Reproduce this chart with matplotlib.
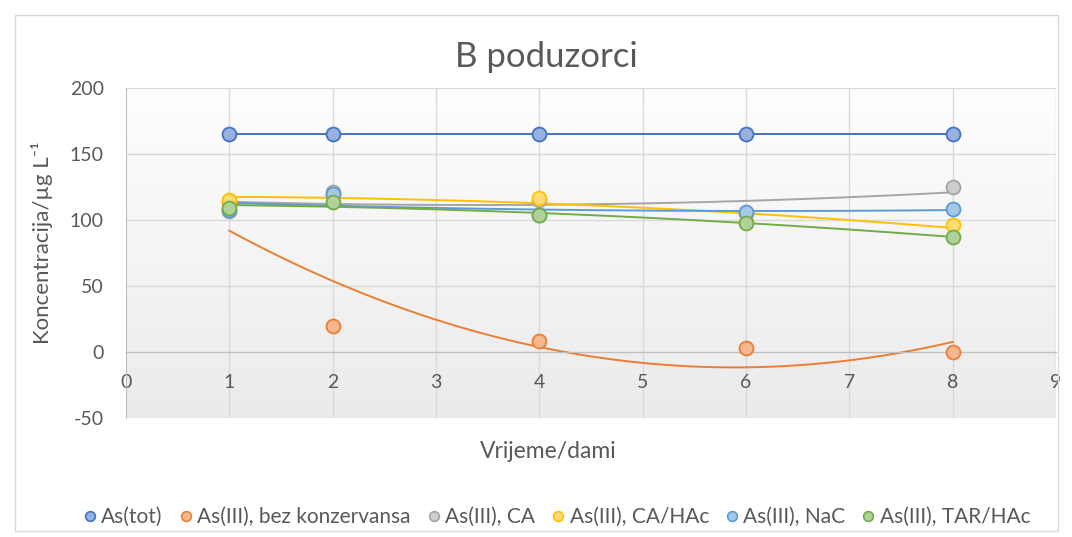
import numpy as np
import matplotlib
matplotlib.use("Agg")
import matplotlib.pyplot as plt
from matplotlib.lines import Line2D
from matplotlib.patches import Rectangle
from matplotlib.colors import to_rgb, LinearSegmentedColormap

plt.rcParams['font.family'] = ['Lato', 'DejaVu Sans']
plt.rcParams['axes.unicode_minus'] = False

# vrijeme uzorkovanja (dani) i izmjerene koncentracije (µg/L)
dani = [1, 2, 4, 6, 8]
as_tot = [165, 165, 165, 165, 165]
bez_konz = [114, 20, 8.5, 3, 0]
ca = [107, 121, 115, 105, 125]
ca_hac = [115, 119, 117, 98.5, 96.5]
nac = [107.5, 120, 104, 106, 108.5]
tar_hac = [109, 114, 103.5, 97.5, 87.5]

serije = [
    ("As(tot)", as_tot, "#4472C4"),
    ("As(III), bez konzervansa", bez_konz, "#ED7D31"),
    ("As(III), CA", ca, "#A5A5A5"),
    ("As(III), CA/HAc", ca_hac, "#FFC000"),
    ("As(III), NaC", nac, "#5B9BD5"),
    ("As(III), TAR/HAc", tar_hac, "#70AD47"),
]

tekst = "#595959"
mreza = "#d9d9d9"


def svjetlije(c, f=0.45):
    r, g, b = to_rgb(c)
    return (r + (1 - r) * f, g + (1 - g) * f, b + (1 - b) * f)


fig = plt.figure(figsize=(10.72, 5.37), dpi=100)
fig.patches.append(Rectangle((15 / 1072, 6 / 537), 1043 / 1072, 516 / 537,
                             transform=fig.transFigure, fill=False,
                             edgecolor=mreza, linewidth=1))

ax = fig.add_axes([126 / 1072, 1 - 418 / 537, 930 / 1072, 330 / 537])
ax.set_xlim(0, 9)
ax.set_ylim(-50, 200)

# blagi gradijent pozadine
grad = np.linspace(0, 1, 100).reshape(-1, 1)
ax.imshow(grad, extent=(0, 9, -50, 200), aspect='auto', origin='upper',
          cmap=LinearSegmentedColormap.from_list("bg", ["#fefefe", "#ebebeb"]),
          zorder=0)

for y in range(-50, 201, 50):
    ax.axhline(y, color=mreza, linewidth=1, zorder=1)
for x in range(1, 10):
    ax.axvline(x, color=mreza, linewidth=1, zorder=1)

# polinomni trendovi 2. reda
xs = np.linspace(1, 8, 200)
for ime, vrijednosti, boja in serije:
    koef = np.polyfit(dani, vrijednosti, 2)
    ax.plot(xs, np.polyval(koef, xs), color=boja, linewidth=1.4, zorder=2)
for ime, vrijednosti, boja in serije:
    ax.plot(dani, vrijednosti, linestyle='none', marker='o', markersize=10,
            markerfacecolor=svjetlije(boja), markeredgecolor=boja,
            markeredgewidth=1.3, zorder=3)

for s in ['top', 'right']:
    ax.spines[s].set_visible(False)
ax.spines['bottom'].set_position(('data', 0))
ax.spines['bottom'].set_color("#bfbfbf")
ax.spines['left'].set_color("#bfbfbf")
ax.set_xticks(range(0, 10))
ax.set_yticks(range(-50, 201, 50))
ax.tick_params(axis='both', length=0, labelsize=14, labelcolor=tekst)
ax.tick_params(axis='x', pad=16)
ax.tick_params(axis='y', pad=16)

fig.text(546 / 1072, 1 - 57 / 537, "B poduzorci", ha='center', va='center',
         fontsize=25, color=tekst)
fig.text(548 / 1072, 1 - 452 / 537, "Vrijeme/dami", ha='center',
         va='center', fontsize=16.5, color=tekst)
fig.text(42 / 1072, 1 - 243 / 537, "Koncentracija/µg L⁻¹",
         ha='center', va='center', rotation=90, fontsize=16, color=tekst)

ruke = [Line2D([], [], linestyle='none', marker='o', markersize=7,
               markerfacecolor=svjetlije(b), markeredgecolor=b,
               markeredgewidth=1.2) for _, _, b in serije]
fig.legend(ruke, [s[0] for s in serije], loc='center',
           bbox_to_anchor=(555 / 1072, 1 - 517 / 537), ncol=6, frameon=False,
           handletextpad=0.05, columnspacing=0.6, fontsize=15,
           labelcolor=tekst, handlelength=1.0)

fig.savefig("out.png", dpi=100)
